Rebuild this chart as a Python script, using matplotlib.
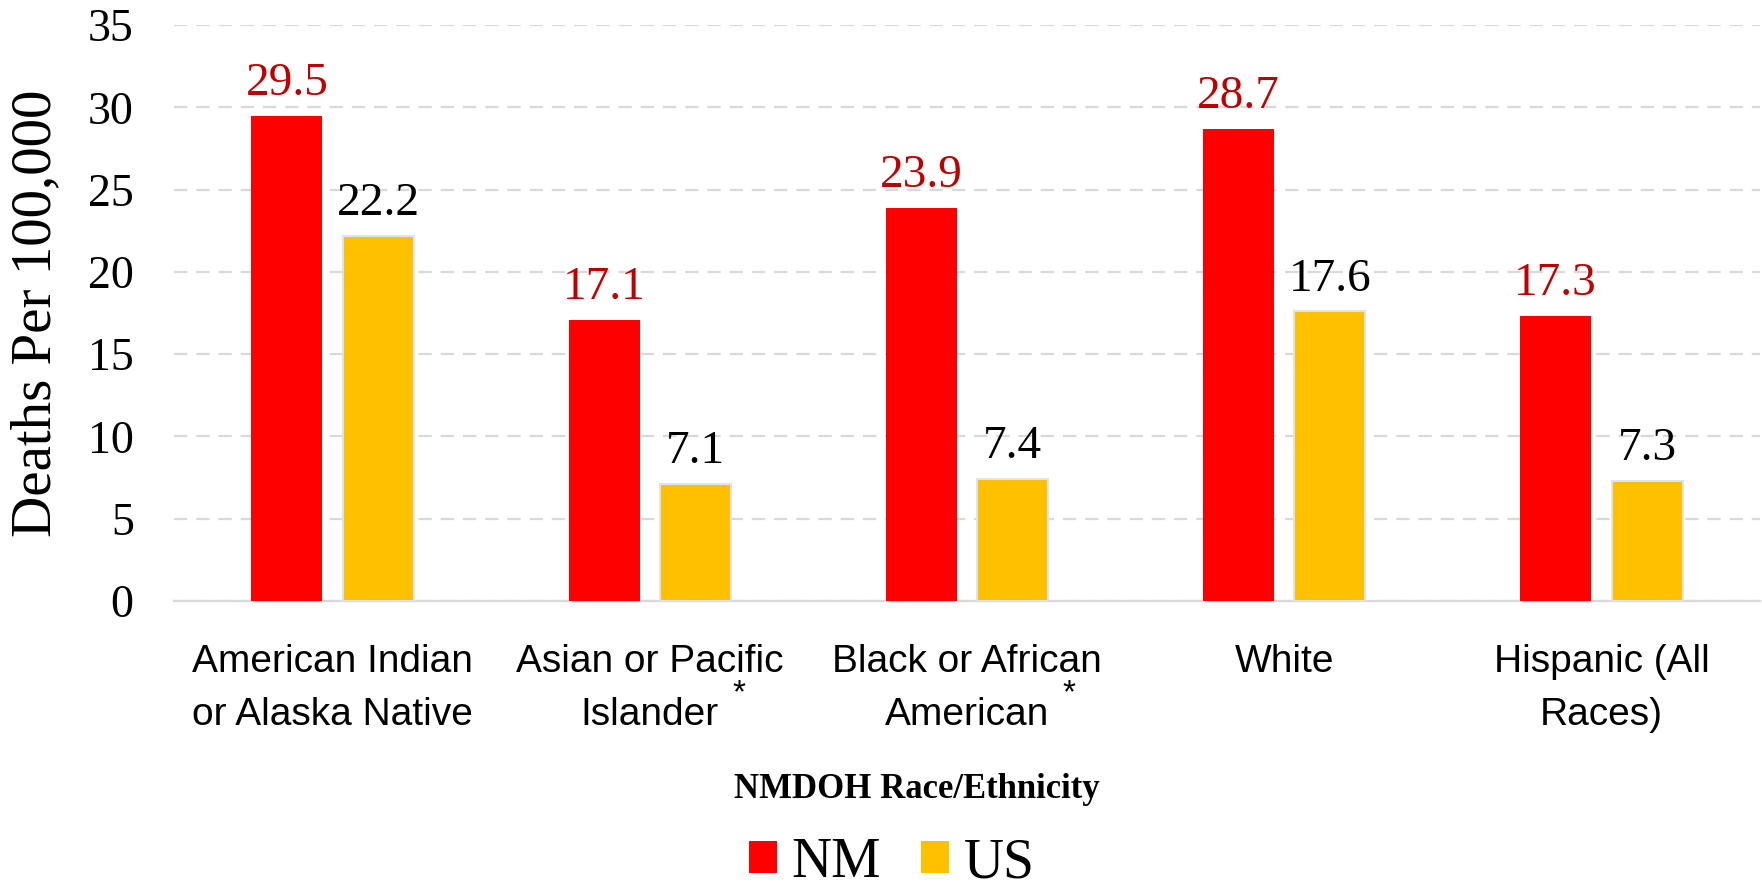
import matplotlib.pyplot as plt
import matplotlib.transforms as mtransforms
from matplotlib.patches import Patch
import numpy as np

categories = [
    "American Indian\nor Alaska Native",
    "Asian or Pacific\nIslander",
    "Black or African\nAmerican",
    "White",
    "Hispanic (All\nRaces)",
]
starred = [False, True, True, False, False]
nm_rates = [29.5, 17.1, 23.9, 28.7, 17.3]
us_rates = [22.2, 7.1, 7.4, 17.6, 7.3]
series_names = ["NM", "US"]
y_ticks = [0, 5, 10, 15, 20, 25, 30, 35]

SERIF = "Liberation Serif"
SANS = "Liberation Sans"
RED = "#FF0000"
GOLD = "#FFC000"

fig = plt.figure(figsize=(17.62, 8.86), dpi=100)
ax = fig.add_axes([174 / 1762, 1 - 601 / 886, 1586 / 1762, 576 / 886])

x = np.arange(len(categories))
width = 0.224
offset = 0.144

nm_bars = ax.bar(x - offset, nm_rates, width, color=RED, zorder=3)
us_bars = ax.bar(x + offset, us_rates, width, color=GOLD,
                 edgecolor="#dbe4ef", linewidth=1.5, zorder=3)

# value labels above the bars
for bars, vals, col in [(nm_bars, nm_rates, "#C00000"), (us_bars, us_rates, "black")]:
    for b, v in zip(bars, vals):
        ax.annotate(f"{v:.1f}", (b.get_x() + b.get_width() / 2, v),
                    xytext=(0, 15), textcoords="offset points",
                    ha="center", va="baseline", fontsize=34,
                    family=SERIF, color=col)

ax.set_xlim(-0.5, len(categories) - 0.5)
ax.set_ylim(0, 35)
ax.set_yticks(y_ticks)
ax.set_yticklabels([str(t) for t in y_ticks], family=SERIF, fontsize=33)
ax.set_xticks(x)
ax.set_xticklabels(categories, family=SANS, fontsize=28, linespacing=1.62)
ax.tick_params(axis="both", length=0)
ax.tick_params(axis="y", pad=29)
ax.tick_params(axis="x", pad=31)

ax.yaxis.grid(True, color="#d9d9d9", linestyle=(0, (6, 4)), linewidth=1.6, zorder=0)
ax.set_axisbelow(True)
for s in ["top", "right", "left"]:
    ax.spines[s].set_visible(False)
ax.spines["bottom"].set_color("#d9d9d9")
ax.spines["bottom"].set_linewidth(1.6)

ax.set_ylabel("Deaths Per 100,000", family=SERIF, fontsize=41, va="center")
ax.yaxis.set_label_coords(-0.087, 0.5)

# asterisks next to the second line of some labels (raised, like a footnote mark)
trans = mtransforms.blended_transform_factory(ax.transData, fig.transFigure)
for i, flag in enumerate(starred):
    if flag:
        ax.text(i + 0.28 + 0.04 * (i - 1), 1 - 694 / 886, "*", transform=trans,
                ha="center", va="center", fontsize=24, family=SANS)

fig.text(917 / 1762, 1 - 789 / 886, "NMDOH Race/Ethnicity", ha="center",
         va="center", family=SERIF, fontweight="bold", fontsize=25)

handles = [Patch(facecolor=RED), Patch(facecolor=GOLD)]
fig.legend(handles, series_names, loc="center", bbox_to_anchor=(892 / 1762, 1 - 863 / 886),
           ncol=2, frameon=False, prop={"family": SERIF, "size": 40},
           handlelength=0.5, handleheight=0.5, handletextpad=0.27,
           columnspacing=0.72, borderpad=0, borderaxespad=0)

fig.savefig("out.png", dpi=100, facecolor="white")
